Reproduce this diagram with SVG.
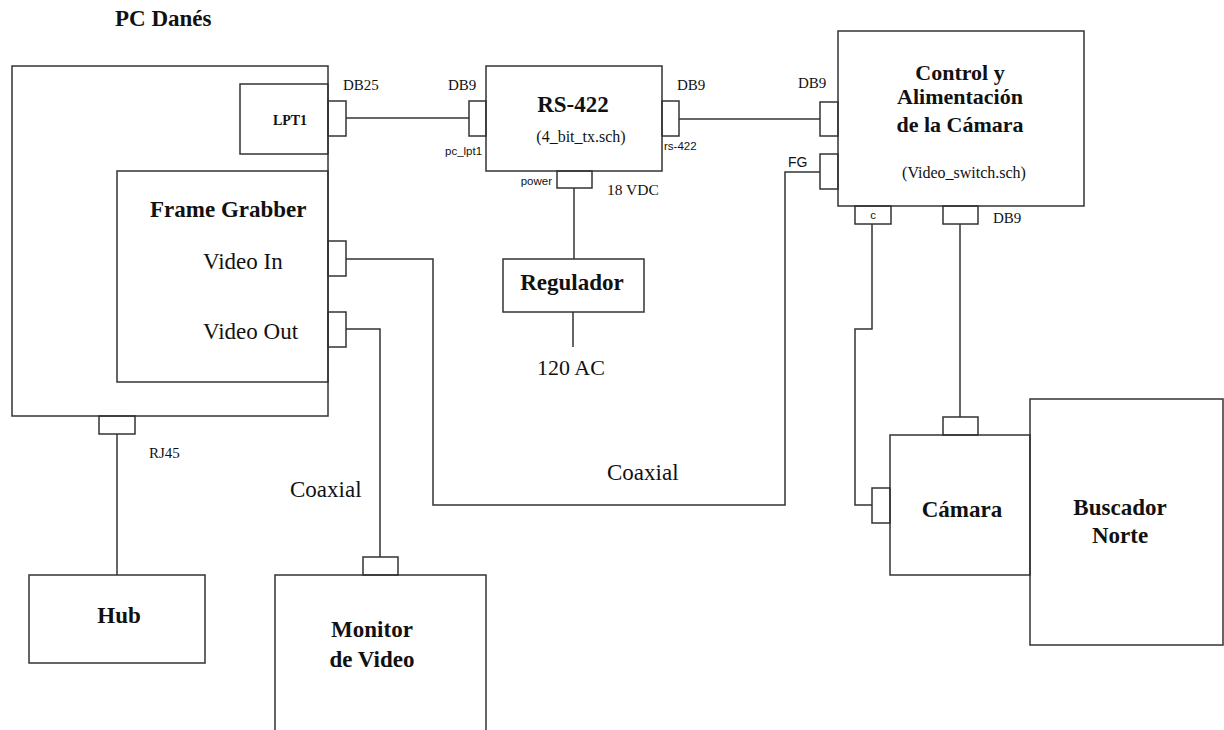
<svg xmlns="http://www.w3.org/2000/svg" width="1224" height="730" viewBox="0 0 1224 730">
<style>
rect{fill:none;stroke:#333;stroke-width:1.5}
.c path,.c line{fill:none;stroke:#333;stroke-width:1.5}
text{font-family:"Liberation Serif","Times New Roman",serif;fill:#111}
.b{font-weight:bold}
.s{font-family:"Liberation Sans",Arial,sans-serif;font-size:11.5px}
.l{font-size:15px}
.m{font-size:23px}
.ct{font-size:22px}
.mid{text-anchor:middle}
</style>
<rect x="0" y="0" width="1224" height="730" style="fill:#fff;stroke:none"/>
<text x="115" y="26" class="b m">PC Danés</text>

<g id="pc">
<rect x="12" y="66" width="316" height="350"/>
</g>
<g id="lpt1">
<rect x="240" y="84" width="88" height="70"/>
<text x="290" y="125" class="b mid" font-size="14">LPT1</text>
<rect x="328" y="101" width="18" height="35"/>
<text x="343" y="90" class="l">DB25</text>
</g>
<g id="framegrabber">
<rect x="117" y="171" width="211" height="211"/>
<text x="150" y="217" class="b m">Frame Grabber</text>
<text x="203" y="269" class="m">Video In</text>
<text x="203" y="339" class="m">Video Out</text>
<rect x="328" y="241" width="18" height="35"/>
<rect x="328" y="312" width="18" height="35"/>
</g>
<g id="rj45">
<rect x="99" y="416" width="36" height="18"/>
<text x="149" y="458" class="l">RJ45</text>
</g>
<g id="rs422">
<rect x="486" y="66" width="176" height="105"/>
<text x="573" y="112" class="b mid m">RS-422</text>
<text x="581" y="142" class="mid" font-size="16">(4_bit_tx.sch)</text>
<rect x="469" y="101" width="17" height="35"/>
<text x="448" y="90" class="l">DB9</text>
<text x="445" y="155" class="s">pc_lpt1</text>
<rect x="662" y="101" width="17" height="35"/>
<text x="677" y="90" class="l">DB9</text>
<text x="664" y="150" class="s">rs-422</text>
<rect x="557" y="171" width="35" height="17"/>
<text x="552" y="185" class="s" text-anchor="end">power</text>
<text x="607" y="195" font-size="15.5">18 VDC</text>
</g>
<g id="regulador">
<rect x="503" y="259" width="141" height="53"/>
<text x="572" y="290" class="b mid m">Regulador</text>
<text x="537" y="375" font-size="22">120 AC</text>
</g>
<g id="control">
<rect x="838" y="31" width="246" height="175"/>
<text x="960" y="80" class="b mid ct">Control y</text>
<text x="960" y="104" class="b mid ct">Alimentación</text>
<text x="960" y="132" class="b mid ct">de la Cámara</text>
<text x="964" y="178" class="mid" font-size="16">(Video_switch.sch)</text>
<rect x="820" y="102" width="18" height="34"/>
<text x="798" y="88" class="l">DB9</text>
<rect x="820" y="154" width="18" height="35"/>
<text x="788" y="167" class="s" style="font-size:14px">FG</text>
<rect x="855" y="206" width="36" height="18"/>
<text x="873" y="219" class="s mid">c</text>
<rect x="943" y="206" width="35" height="18"/>
<text x="993" y="223" class="l">DB9</text>
</g>
<g id="camara">
<rect x="890" y="435" width="140" height="140"/>
<text x="962" y="517" class="b mid m">Cámara</text>
<rect x="943" y="417" width="35" height="18"/>
<rect x="872" y="488" width="18" height="35"/>
</g>
<g id="buscador">
<rect x="1030" y="399" width="193" height="246"/>
<text x="1120" y="515" class="b mid m">Buscador</text>
<text x="1120" y="543" class="b mid m">Norte</text>
</g>
<g id="hub">
<rect x="29" y="575" width="176" height="88"/>
<text x="119" y="623" class="b mid m">Hub</text>
</g>
<g id="monitor">
<rect x="275" y="575" width="211" height="170"/>
<rect x="363" y="557" width="35" height="18"/>
<text x="372" y="637" class="b mid m">Monitor</text>
<text x="372" y="667" class="b mid m">de Video</text>
</g>
<text x="290" y="497" class="m">Coaxial</text>
<text x="607" y="480" class="m">Coaxial</text>

<g class="c" id="connectors">
<line x1="346" y1="118" x2="469" y2="118"/>
<line x1="679" y1="119" x2="820" y2="119"/>
<line x1="574" y1="188" x2="574" y2="259"/>
<line x1="573" y1="312" x2="573" y2="347"/>
<path d="M346 259 H433 V505 H785 V172 H820"/>
<path d="M346 329 H380 V557"/>
<line x1="117" y1="434" x2="117" y2="575"/>
<path d="M872 224 V329 H855 V505 H872"/>
<line x1="960" y1="224" x2="960" y2="417"/>
</g>
</svg>
